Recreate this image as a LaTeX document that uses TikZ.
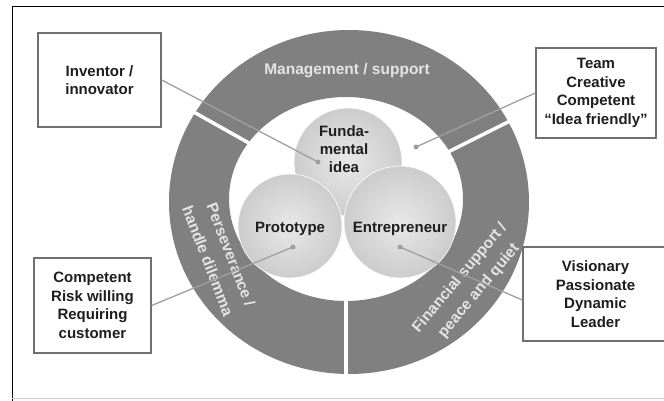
\documentclass[tikz,border=0pt]{standalone}
\usepackage{fontspec}
\setmainfont{Liberation Sans}
\definecolor{ringgray}{RGB}{128,128,128}
\definecolor{ringtxt}{RGB}{228,228,228}
\definecolor{conngray}{RGB}{160,160,160}
\definecolor{boxgray}{RGB}{112,112,112}
\definecolor{txtdark}{RGB}{30,30,30}
\definecolor{ballin}{RGB}{232,232,232}
\definecolor{ballout}{RGB}{204,204,204}
\tikzset{
  boxnode/.style={draw=boxgray, line width=1.4pt, fill=white, align=center,
    font=\bfseries\fontsize{15}{18.5}\selectfont, text=txtdark, inner sep=0pt},
  ringtext/.style={text=ringtxt, font=\bfseries\fontsize{15.5}{20}\selectfont, inner sep=0pt},
  balltext/.style={text=txtdark, font=\bfseries\fontsize{15}{18}\selectfont, align=center, inner sep=0pt},
  conn/.style={draw=conngray, line width=1.3pt},
  dotmark/.style={fill=conngray, circle, inner sep=0pt, minimum size=5pt},
  divider/.style={draw=white, line width=3.5pt},
  ball/.style={circle, inner sep=0pt, draw=white, line width=0.6pt, inner color=ballin, outer color=ballout},
}
\begin{document}
\begin{tikzpicture}[x=1pt,y=-1pt]
\useasboundingbox (0,0) rectangle (664,401);
\clip (0,0) rectangle (664,401);
\fill[white] (0,0) rectangle (664,401);
% frame
\draw[black, line width=1pt] (664,7) -- (12,7) -- (12,401);
\draw[gray!40, line width=0.8pt] (12,398) -- (664,398);
% ring
\fill[ringgray, even odd rule] (349,202) ellipse [x radius=180, y radius=172]
  (346,199) ellipse [x radius=117, y radius=102];
% dividers
\draw[divider] (168,97.6) -- (256,147);
\draw[divider] (522,115) -- (446,153);
\draw[divider] (346,290) -- (346,385);
% balls
\node[ball, minimum size=108pt] (fund) at (348,162) {};
\node[ball, minimum size=104pt] (proto) at (290,226) {};
\node[ball, minimum size=112pt] (entre) at (400,222) {};
\node[balltext] (fundt) at (344,149) {Funda-\\mental\\idea};
\node[balltext] (protot) at (290,229) {Prototype};
\node[balltext] (entret) at (400,229) {Entrepreneur};
% ring texts
\node[ringtext] (mgmt) at (347,71) {Management / support};
\node[ringtext, rotate=-69] (pers1) at (231,255) {Perseverance /};
\node[ringtext, rotate=-69] (pers2) at (208,261) {handle dilemma};
\node[ringtext, rotate=50] (fin1) at (460,278) {Financial support /};
\node[ringtext, rotate=50] (fin2) at (479,291) {peace and quiet};
% boxes
\node[boxnode, minimum width=123pt, minimum height=94pt] (inv) at (99.5,80) {Inventor /\\innovator};
\node[boxnode, minimum width=120pt, minimum height=90pt] (team) at (596,93) {Team\\Creative\\Competent\\“Idea friendly”};
\node[boxnode, minimum width=117pt, minimum height=95pt] (comp) at (92.5,305.5) {Competent\\Risk willing\\Requiring\\customer};
\node[boxnode, minimum width=145pt, minimum height=94pt] (vis) at (595.5,294) {Visionary\\Passionate\\Dynamic\\Leader};
% connector ends
\coordinate (d1) at (318,162);
\coordinate (d2) at (416,147);
\coordinate (d3) at (293,247);
\coordinate (d4) at (400,247);
\draw[conn] (inv.east) -- (d1);
\draw[conn] (team.west) -- (d2);
\draw[conn] (comp.east) -- (d3);
\draw[conn] ([yshift=-6pt]vis.west) -- (d4);
\node[dotmark] (m1) at (d1) {};
\node[dotmark] (m2) at (d2) {};
\node[dotmark] (m3) at (d3) {};
\node[dotmark] (m4) at (d4) {};
\end{tikzpicture}
\end{document}
